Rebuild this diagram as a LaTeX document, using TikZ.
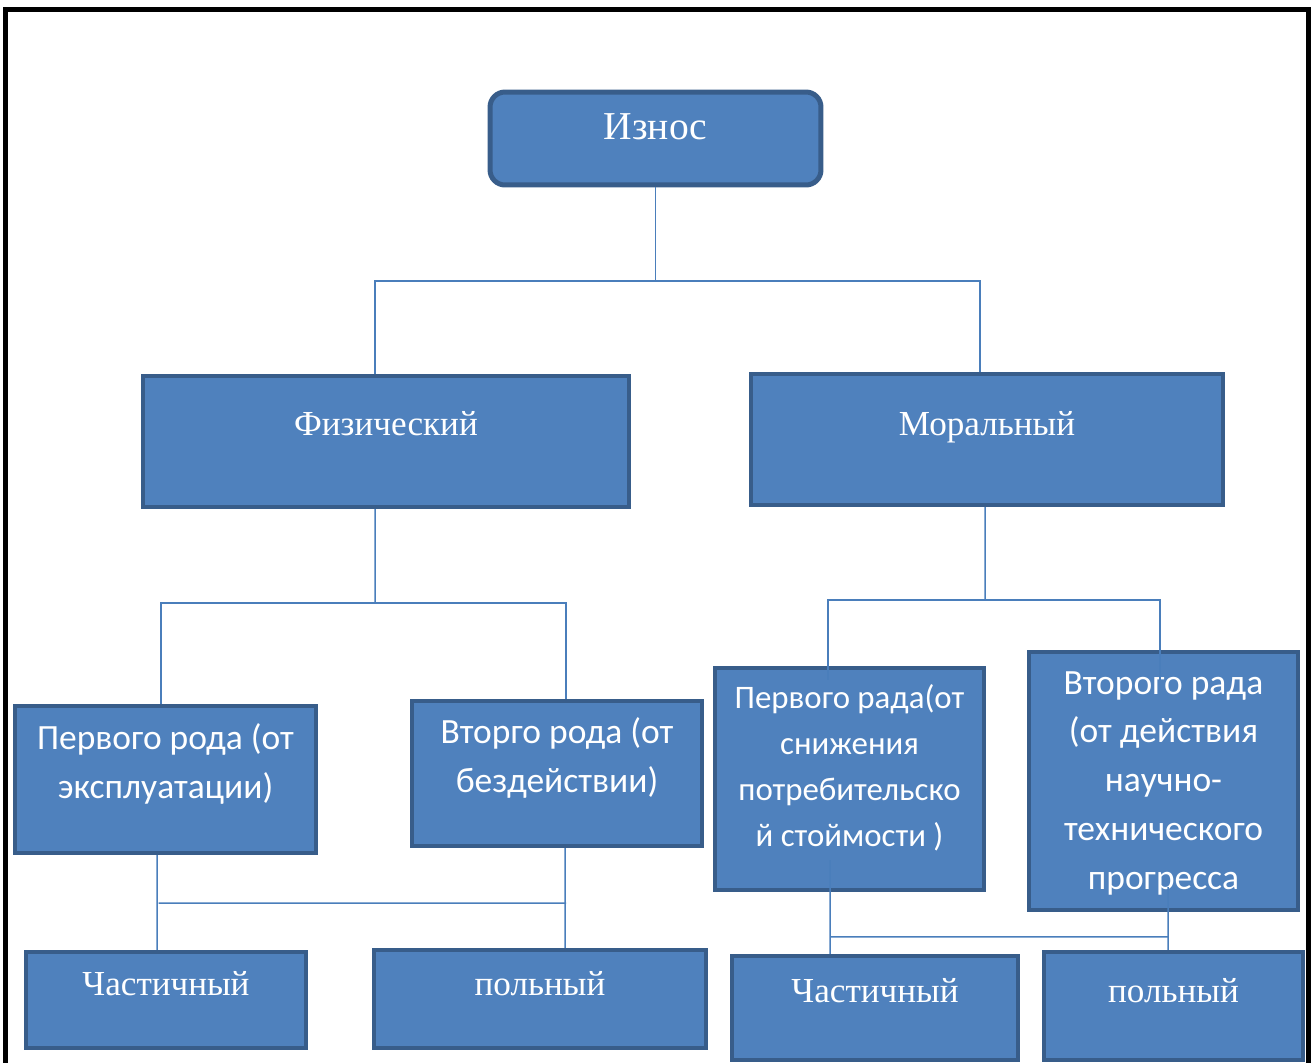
\documentclass[tikz,border=0pt]{standalone}
\usepackage{fontspec}
\setmainfont{Liberation Serif}
\newfontfamily\calibri{Carlito}
\usepackage{tikz}
\usetikzlibrary{positioning}
\definecolor{boxfill}{RGB}{79,129,189}
\definecolor{boxline}{RGB}{56,93,138}
\definecolor{linkblue}{RGB}{74,126,187}

\begin{document}
\begin{tikzpicture}[x=0.02cm, y=-0.02cm,
box/.style={draw=boxline, fill=boxfill, line width=0.09cm, inner sep=0pt},
rbox/.style={box, line width=0.1cm, rounded corners=0.3cm},
serif/.style={text=white, font=\fontsize{20}{24}\selectfont, anchor=center},
sans/.style={text=white, align=center, font=\calibri\fontsize{20.2}{27.8}\selectfont, anchor=center},
link/.style={draw=linkblue, line width=0.03cm}]
\useasboundingbox (0,0) rectangle (1312,1062);
\clip (0,0) rectangle (1312,1062);
% frame
\draw[line width=0.1cm] (5.5,1100) -- (5.5,9.5) -- (1308.5,9.5) -- (1308.5,1100);
% top
\node[rbox, minimum width=6.62cm, minimum height=1.86cm,
  label={[serif, font=\fontsize{22.5}{26}\selectfont, yshift=-0.74cm]north:Износ}] (iznos) at (655.5,138.5) {};
% second row
\node[box, minimum width=9.72cm, minimum height=2.62cm,
  label={[serif, yshift=-1.0cm]north:Физический}] (fiz) at (386,441.5) {};
\node[box, minimum width=9.44cm, minimum height=2.62cm,
  label={[serif, yshift=-1.1cm]north:Моральный}] (mor) at (987,439.5) {};
% third row
\node[box, minimum width=6.02cm, minimum height=2.94cm,
  label={[sans, yshift=-1.21cm]north:Первого рода (от\\эксплуатации)}] (perv) at (165.5,779.5) {};
\node[box, minimum width=5.8cm, minimum height=2.9cm,
  label={[sans, yshift=-1.18cm]north:Вторго рода (от\\бездействии)}] (vtor) at (557,773.5) {};
\node[box, minimum width=5.38cm, minimum height=4.44cm,
  label={[sans, font=\calibri\fontsize{18.7}{26.1}\selectfont, yshift=-2.04cm]north:Первого рада(от\\снижения\\потребительско\\й стоймости )}] (pervR) at (849.5,779) {};
\node[box, minimum width=5.38cm, minimum height=5.16cm,
  label={[sans, yshift=-2.67cm]north:Второго рада\\(от действия\\научно-\\технического\\прогресса}] (vtorR) at (1163.5,781) {};
% bottom row
\node[box, minimum width=5.6cm, minimum height=1.92cm,
  label={[serif, yshift=-0.68cm]north:Частичный}] (chastL) at (166,1000) {};
\node[box, minimum width=6.64cm, minimum height=1.96cm,
  label={[serif, yshift=-0.72cm]north:польный}] (polnL) at (540,999) {};
\node[box, minimum width=5.72cm, minimum height=2.08cm,
  label={[serif, yshift=-0.74cm]north:Частичный}] (chastR) at (875,1008) {};
\node[box, minimum width=5.18cm, minimum height=2.16cm,
  label={[serif, yshift=-0.82cm]north:польный}] (polnR) at (1173.5,1006) {};
% connectors
\coordinate (bus1) at (655.5,281);
\coordinate (bus2) at (375,603);
\coordinate (bus3) at (985,600);
\draw[link] (iznos.south) -- (bus1);
\draw[link] ([xshift=-0.22cm]fiz.north) |- (bus1) -| ([xshift=-0.14cm]mor.north);
\draw[link] ([xshift=-0.22cm]fiz.south) -- (bus2);
\draw[link] ([xshift=-0.09cm]perv.north) |- (bus2) -| ([xshift=0.18cm]vtor.north);
\draw[link] ([xshift=-0.04cm]mor.south) -- (bus3);
\draw[link] ([xshift=-0.43cm, yshift=-0.28cm]pervR.north) |- (bus3) -| ([xshift=-0.07cm, yshift=-0.6cm]vtorR.north);
\draw[link] ([xshift=-0.17cm]perv.south) -- ([xshift=-0.18cm]chastL.north);
\draw[link] ([xshift=0.16cm]vtor.south) -- ([xshift=0.5cm]polnL.north);
\draw[link] ([xshift=-0.14cm, yshift=-0.96cm]perv.south) -- ([xshift=0.18cm, yshift=-1.1cm]vtor.south);
\draw[link] ([xshift=-0.39cm, yshift=0.64cm]pervR.south) -- ([xshift=-0.9cm]chastR.north);
\draw[link] ([xshift=0.09cm, yshift=0.5cm]vtorR.south) -- ([xshift=-0.11cm]polnR.north);
\draw[link] ([xshift=-0.9cm, yshift=0.34cm]chastR.north) -- ([xshift=-0.11cm, yshift=0.26cm]polnR.north);
\end{tikzpicture}
\end{document}
